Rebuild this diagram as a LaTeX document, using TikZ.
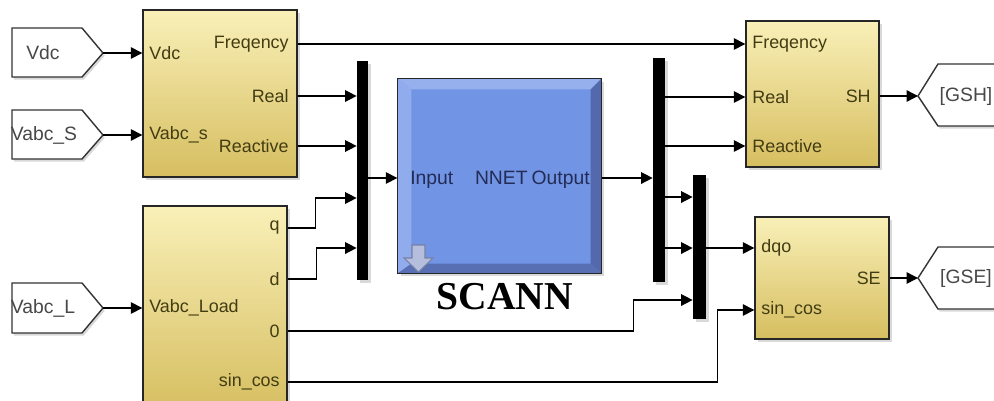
\documentclass[tikz,border=0pt]{standalone}
\usepackage{fontspec}
\setmainfont{Liberation Sans}
\newfontfamily\titlefont{Liberation Serif}
\usepackage{xcolor}
\usepackage{tikz}
\usetikzlibrary{arrows.meta,shadows}

\definecolor{ylwtop}{RGB}{249,240,184}
\definecolor{ylwbot}{RGB}{214,190,96}
\definecolor{ylwtext}{RGB}{66,60,18}
\definecolor{nnface}{RGB}{114,148,228}
\definecolor{nnlight}{RGB}{150,176,238}
\definecolor{nndark}{RGB}{84,104,172}
\definecolor{nntext}{RGB}{34,44,86}
\definecolor{tagtext}{RGB}{72,72,72}
\definecolor{icon}{RGB}{150,162,206}

\tikzset{
  sig/.style={line width=0.8pt, -{Triangle[length=6.5pt,width=6.5pt]}},
  wire/.style={line width=0.8pt},
  blk/.style={draw=black!85, line width=0.8pt, top color=ylwtop, bottom color=ylwbot,
    drop shadow={shadow xshift=1.5pt, shadow yshift=-1.5pt, opacity=0.3}},
  busbar/.style={fill=black, draw=none, inner sep=0pt,
    drop shadow={shadow xshift=1.5pt, shadow yshift=-1.5pt, opacity=0.3}},
  tagbox/.style={draw=black!80, fill=white, line width=0.8pt,
    drop shadow={shadow xshift=1pt, shadow yshift=-1.5pt, opacity=0.3}},
  port/.style={inner sep=0pt, text=ylwtext, font=\fontsize{10.2}{12}\selectfont},
  nnport/.style={inner sep=0pt, text=nntext, font=\fontsize{11}{13}\selectfont},
  tagtxt/.style={inner sep=0pt, text=tagtext, font=\fontsize{11}{13}\selectfont}
}

\begin{document}
\begin{tikzpicture}[x=0.02cm, y=-0.02cm]
\useasboundingbox (0,0) rectangle (994,400);
\clip (0,0) rectangle (994,400);

% source tags
\filldraw[tagbox] (12,28) -- (82,28) -- (103,53) -- (82,77) -- (12,77) -- cycle;
\filldraw[tagbox] (12,110) -- (82,110) -- (103,135) -- (82,159) -- (12,159) -- cycle;
\filldraw[tagbox] (12,283) -- (82,283) -- (103,308) -- (82,333) -- (12,333) -- cycle;
\node[tagtxt] (vdc) at (43,53) {Vdc};
\node[tagtxt] (vabcs) at (44,135) {Vabc\_S};
\node[tagtxt] (vabcl) at (43,308) {Vabc\_L};
\coordinate (vdctip) at (103,53);
\coordinate (vstip) at (103,135);
\coordinate (vltip) at (103,308);

% goto tags
\filldraw[tagbox] (938,64) -- (918,96) -- (938,126) -- (1000,126) -- (1000,64) -- cycle;
\filldraw[tagbox] (938,247) -- (918,278) -- (938,309) -- (1000,309) -- (1000,247) -- cycle;
\node[tagtxt] (gsh) at (966,96) {[GSH]};
\node[tagtxt] (gse) at (966,278) {[GSE]};
\coordinate (gshtip) at (918,96);
\coordinate (gsetip) at (918,278);

% subsystems
\node[blk, minimum width=3.08cm, minimum height=3.34cm] (meas) at (220,93.5) {};
\node[blk, minimum width=2.88cm, minimum height=4.12cm] (park) at (215,309) {};
\node[blk, minimum width=2.66cm, minimum height=2.92cm] (shb) at (812.5,94) {};
\node[blk, minimum width=2.68cm, minimum height=2.44cm] (seb) at (822,278) {};

\node[port, anchor=west] (mvdc) at (149,53) {Vdc};
\node[port, anchor=west] (mvs) at (149,135) {Vabc\_s};
\node[port, anchor=east] (mfreq) at (289,44) {Freqency};
\node[port, anchor=east] (mreal) at (289,96) {Real};
\node[port, anchor=east] (mreac) at (289,146) {Reactive};

\node[port, anchor=west] (pin) at (149,308) {Vabc\_Load};
\node[port, anchor=east] (pq) at (280,228) {q};
\node[port, anchor=east] (pd) at (280,279) {d};
\node[port, anchor=east] (pzero) at (280,331) {0};
\node[port, anchor=east] (psc) at (280,382) {sin\_cos};

\node[port, anchor=west] (sfreq) at (752,44) {Freqency};
\node[port, anchor=west] (sreal) at (752,97) {Real};
\node[port, anchor=west] (sreac) at (752,146) {Reactive};
\node[port, anchor=east] (shout) at (871,96) {SH};

\node[port, anchor=west] (edqo) at (761,248) {dqo};
\node[port, anchor=west] (esc) at (761,310) {sin\_cos};
\node[port, anchor=east] (seout) at (881,278) {SE};

% neural network block
\node[draw=black!85, line width=0.8pt, fill=nnface, minimum width=4.06cm, minimum height=3.88cm,
  drop shadow={shadow xshift=1.5pt, shadow yshift=-1.5pt, opacity=0.3}] (nnet) at (499.5,176) {};
\fill[nnlight] (nnet.north west) -- (nnet.north east) -- ([shift={(-11,11)}]nnet.north east)
  -- ([shift={(14,11)}]nnet.north west) -- cycle;
\fill[nnlight!85!nnface] (nnet.north west) -- ([shift={(14,11)}]nnet.north west)
  -- ([shift={(14,-10)}]nnet.south west) -- (nnet.south west) -- cycle;
\fill[nndark] (nnet.north east) -- (nnet.south east) -- ([shift={(-11,-10)}]nnet.south east)
  -- ([shift={(-11,11)}]nnet.north east) -- cycle;
\fill[nndark!85!nnface] (nnet.south west) -- ([shift={(14,-10)}]nnet.south west)
  -- ([shift={(-11,-10)}]nnet.south east) -- (nnet.south east) -- cycle;
\draw[line width=0.8pt, black!85] (nnet.north west) rectangle (nnet.south east);
\filldraw[fill=icon!70!white, draw=icon!80!black, line width=0.6pt]
  (412,245) -- (425,245) -- (425,258) -- (433,258) -- (418.5,272) -- (404,258) -- (412,258) -- cycle;
\node[nnport, anchor=base west] (nin) at (410,184) {Input};
\node[nnport, anchor=base east] (nname) at (528,184) {NNET};
\node[nnport, anchor=base east] (nout) at (590,184) {Output};
\coordinate (nnin) at (nnet.west |- 0,178);
\coordinate (nnout) at (nnet.east |- 0,178);
\node[font=\titlefont\bfseries\fontsize{22.5}{26}\selectfont, inner sep=0pt] (scann) at (505,297) {SCANN};

% mux and demux bars
\node[busbar, minimum width=0.22cm, minimum height=4.38cm] (mux1) at (362.5,170.5) {};
\node[busbar, minimum width=0.24cm, minimum height=4.48cm] (mux2) at (659,170) {};
\node[busbar, minimum width=0.26cm, minimum height=2.88cm] (mux3) at (699.5,247) {};

% signals
\draw[sig] (vdctip) -- (meas.west |- vdctip);
\draw[sig] (vstip) -- (meas.west |- vstip);
\draw[sig] (vltip) -- (park.west |- vltip);
\draw[sig] (meas.east |- mfreq) -- (shb.west |- mfreq);
\draw[sig] (meas.east |- mreal) -- (mux1.west |- mreal);
\draw[sig] (meas.east |- mreac) -- (mux1.west |- mreac);
\draw[sig] (park.east |- pq) -- ++(28,0) |- (mux1.west |- 0,198);
\draw[sig] (park.east |- pd) -- ++(29,0) |- (mux1.west |- 0,248);
\draw[sig] (mux1.east |- nnin) -- (nnin);
\draw[sig] (nnout) -- (mux2.west |- nnout);
\draw[sig] (mux2.east |- sreal) -- (shb.west |- sreal);
\draw[sig] (mux2.east |- sreac) -- (shb.west |- sreac);
\draw[sig] (mux2.east |- 0,197) -- (mux3.west |- 0,197);
\draw[sig] (mux2.east |- 0,248) -- (mux3.west |- 0,248);
\draw[sig] (park.east |- pzero) -- ++(346,0) |- (mux3.west |- 0,300);
\draw[sig] (park.east |- psc) -- ++(430,0) |- (seb.west |- esc);
\draw[sig] (mux3.east |- edqo) -- (seb.west |- edqo);
\draw[sig] (shb.east |- shout) -- (gshtip);
\draw[sig] (seb.east |- seout) -- (gsetip);
\end{tikzpicture}
\end{document}
